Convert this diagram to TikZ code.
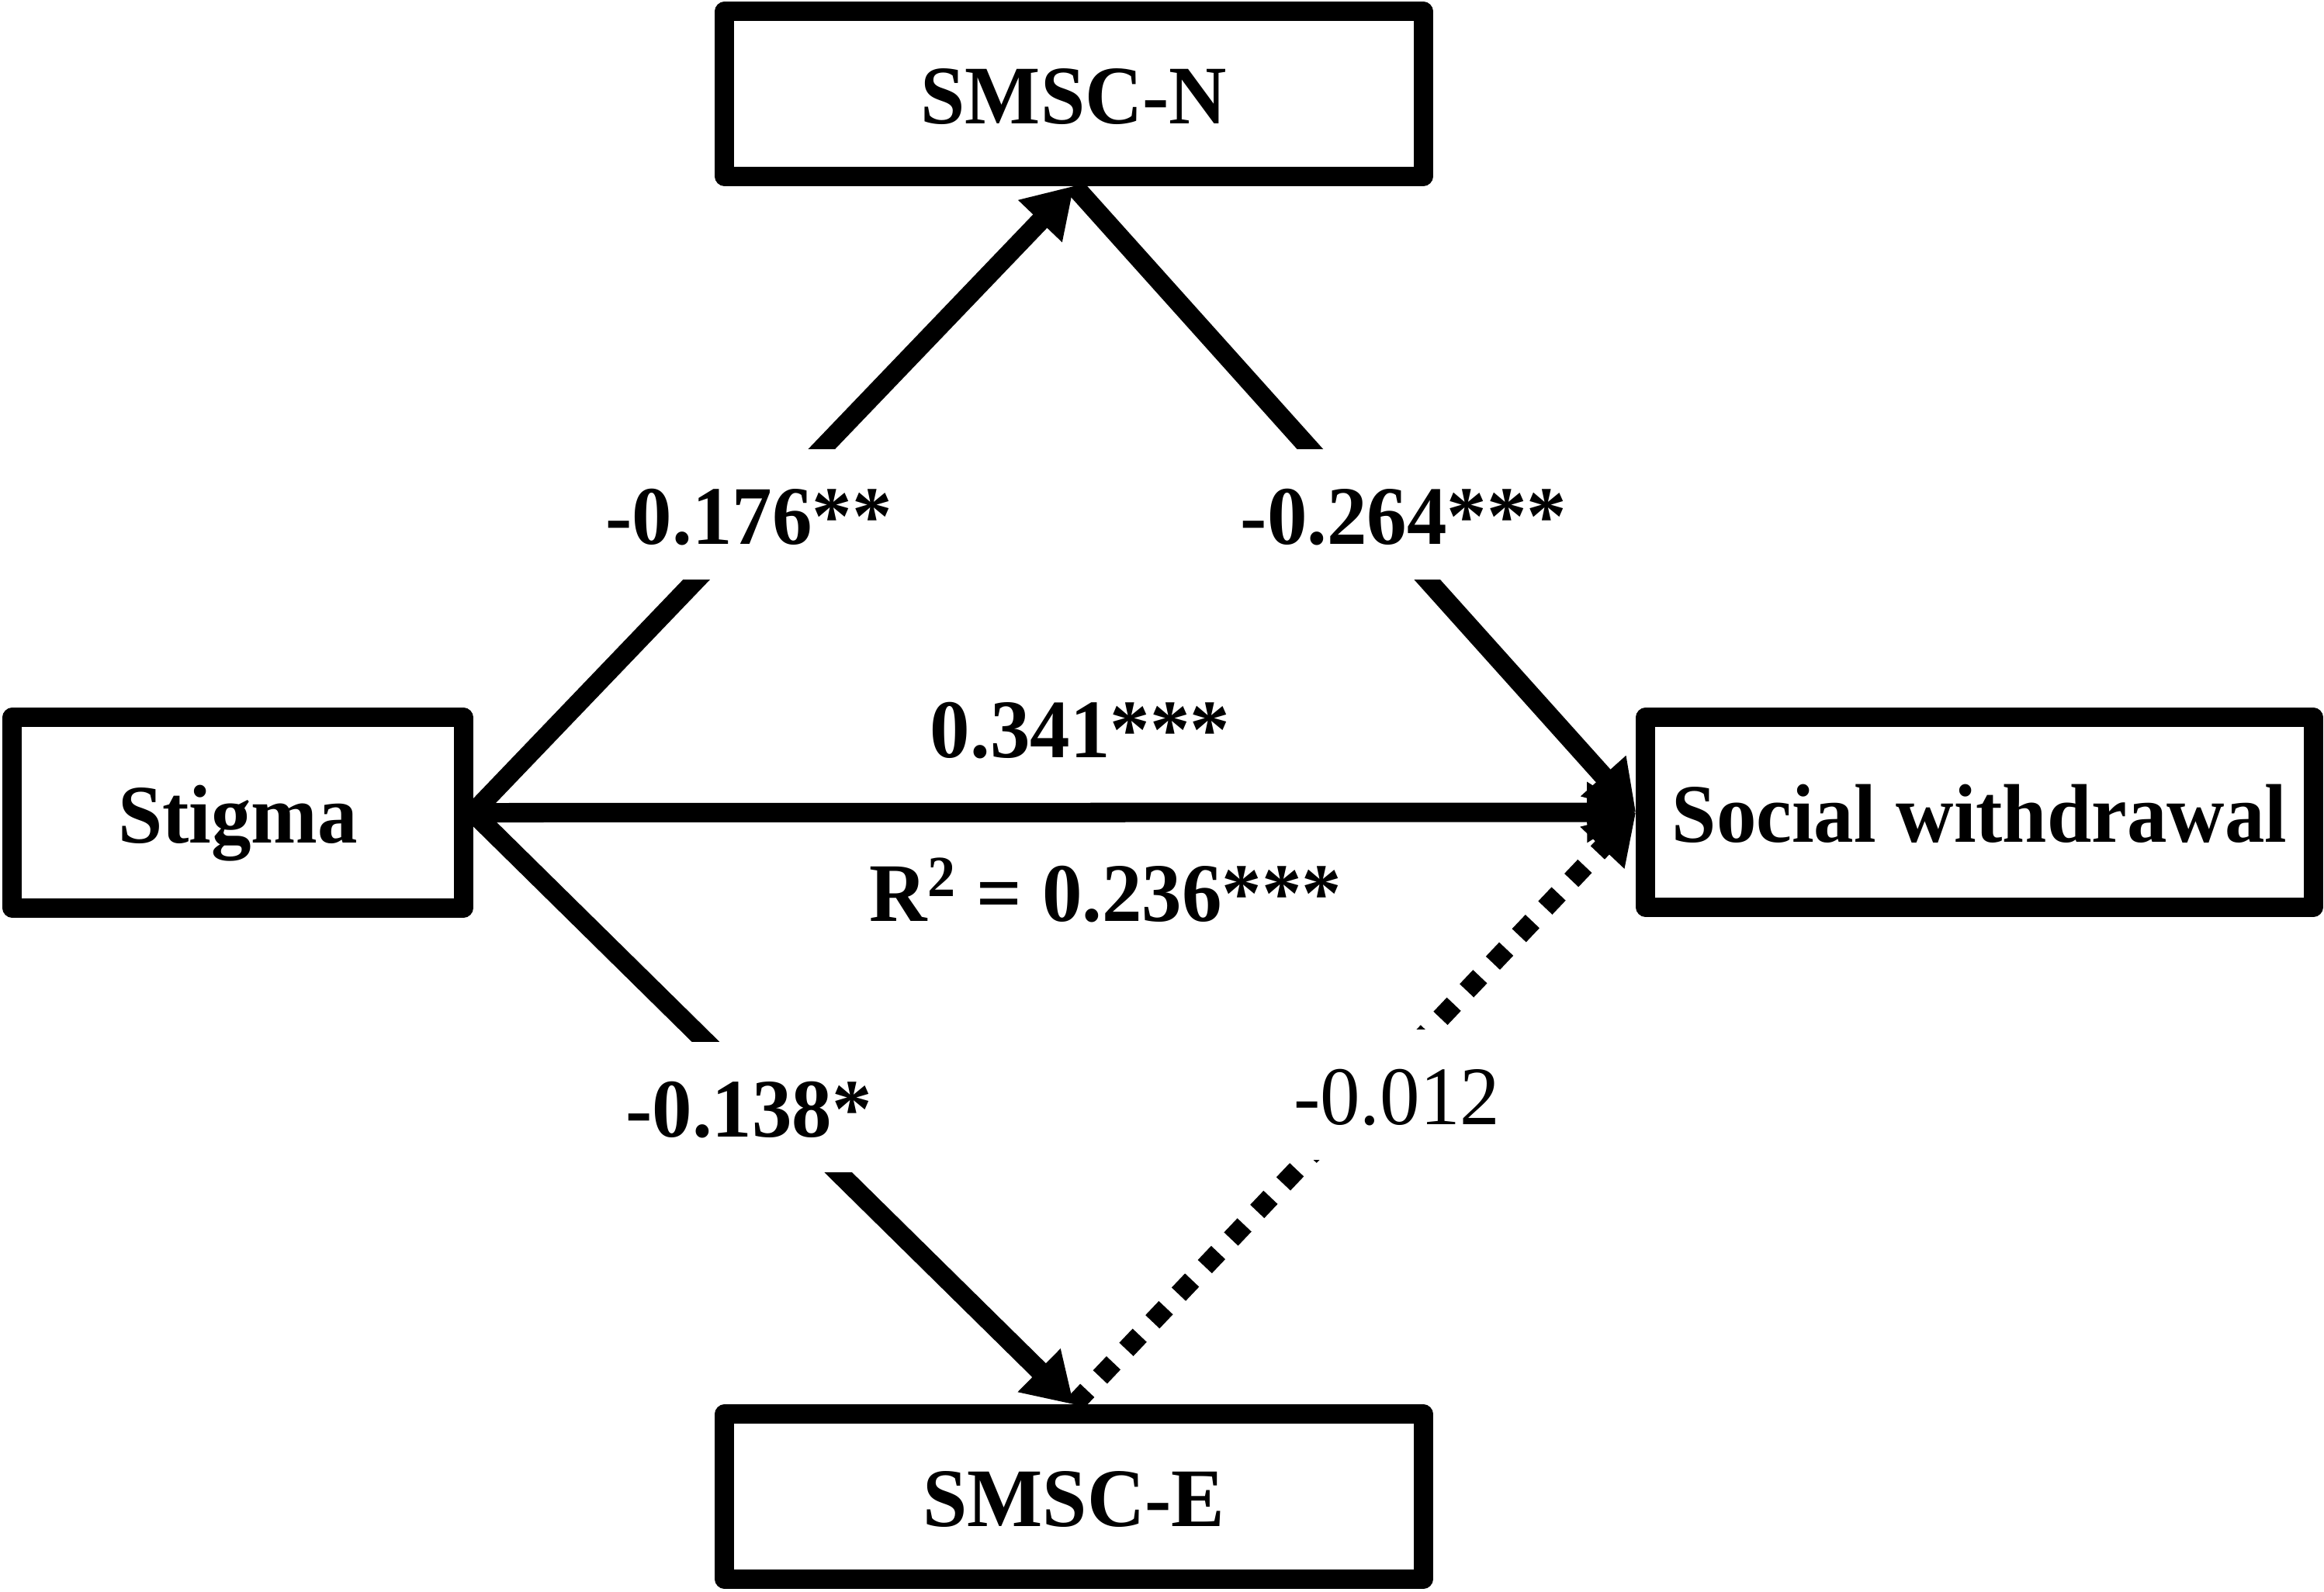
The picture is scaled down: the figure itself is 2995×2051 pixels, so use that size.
\documentclass[tikz,border=0pt]{standalone}
\usepackage{fontspec}
\setmainfont{Liberation Serif}[FakeStretch=0.96]
\usetikzlibrary{arrows.meta}
\begin{document}
\begin{tikzpicture}[x=0.01cm,y=-0.01cm,
  box/.style={draw, line width=0.25cm, line join=round, inner sep=0pt,
    font=\fontsize{30.5}{36}\selectfont\bfseries, text height=22pt, text depth=0pt},
  lbl/.style={fill=white, inner xsep=0.1cm, inner ysep=0pt, minimum height=1.67cm,
    font=\fontsize{30.5}{36}\selectfont\bfseries, text height=22pt, text depth=0pt},
  lblthin/.style={lbl, font=\fontsize{30.5}{36}\selectfont},
  conn/.style={line width=0.25cm, -{Triangle[length=0.63cm,width=0.74cm]}},
  dotconn/.style={conn, dash pattern=on 0.25cm off 0.24cm}]
\useasboundingbox (0,0) rectangle (2995,2051);

\node[box, minimum width=5.81cm, minimum height=2.45cm] (stig) at (306.5,1047.5) {Stigma};
\node[box, minimum width=8.60cm, minimum height=2.44cm] (sw) at (2551,1047) {Social withdrawal};
\node[box, minimum width=9.00cm, minimum height=2.12cm] (smn) at (1384,121) {SMSC-N};
\node[box, minimum width=9.00cm, minimum height=2.12cm] (sme) at (1384,1929) {SMSC-E};

\draw[conn] (stig.east) -- (smn.south);
\draw[conn] (smn.south) -- (sw.west);
\draw[conn] (stig.east) -- (sw.west);
\draw[conn] (stig.east) -- (sme.north);
\draw[dotconn] (sme.north) -- (sw.west);

\node[lbl] (a1) at (965,663) {-0.176**};
\node[lbl] (b1) at (1809,663) {-0.264***};
\node[lbl, fill=none] (c1) at (1392,938) {0.341***};
\node[lbl, fill=none] (r2) at (1425,1149) {R\textsuperscript{2} = 0.236***};
\node[lbl] (a2) at (965,1427) {-0.138*};
\node[lblthin] (b2) at (1800,1411) {-0.012};
\end{tikzpicture}
\end{document}
